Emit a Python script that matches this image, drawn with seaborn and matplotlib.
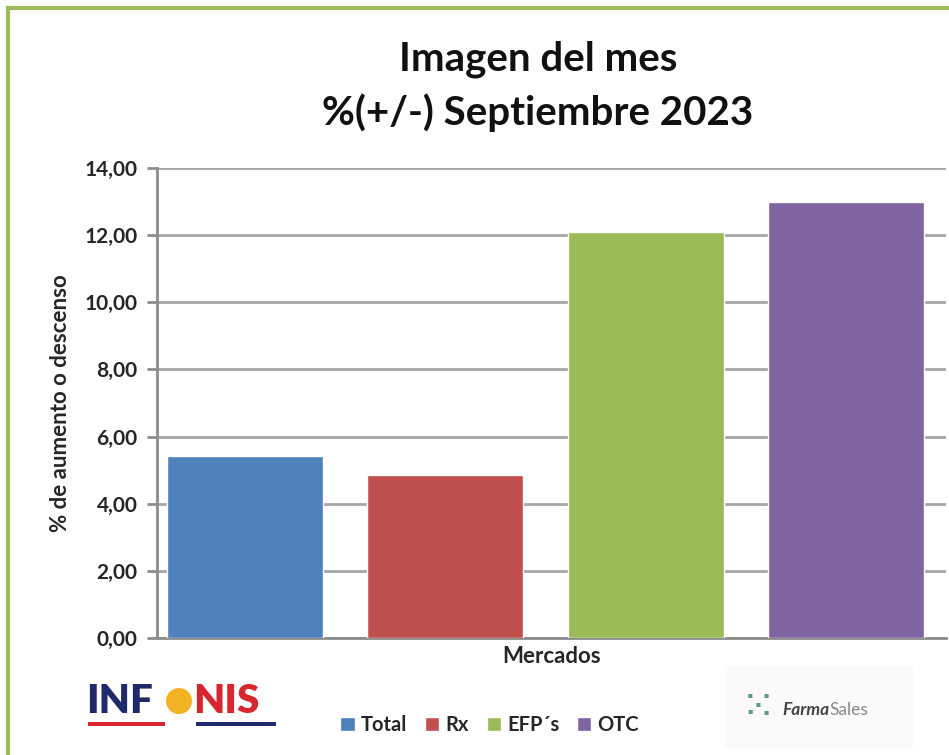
import seaborn as sns
import matplotlib.pyplot as plt
import pandas as pd
from matplotlib.patches import Patch, Rectangle, Ellipse
from matplotlib.ticker import FuncFormatter

sns.set_theme(style="white")
plt.rcParams["font.family"] = ["Lato", "DejaVu Sans"]

# datos
mercados = ["Total", "Rx", "EFP´s", "OTC"]
variacion = [5.42, 4.85, 12.10, 13.00]
colores = ["#4F81BD", "#C0504D", "#9BBB59", "#8064A2"]

df = pd.DataFrame({"mercado": mercados, "valor": variacion})

fig = plt.figure(figsize=(9.49, 7.55), dpi=100)
ax = fig.add_axes([157 / 949, 1 - 638 / 755, 789 / 949, 470 / 755])

sns.barplot(data=df, x="mercado", y="valor", hue="mercado", palette=colores,
            width=0.78, saturation=1, legend=False, ax=ax, zorder=3)

ax.set_ylim(0, 14)
ax.set_xlim(-0.44, 3.5)
ax.set_yticks(range(0, 15, 2))
ax.yaxis.set_major_formatter(FuncFormatter(lambda v, p: f"{v:.2f}".replace(".", ",")))
ax.set_xticks([])
ax.grid(axis="y", color="#A6A6A6", linewidth=2, zorder=0)
for s in ["top", "right"]:
    ax.spines[s].set_visible(False)
for s in ["left", "bottom"]:
    ax.spines[s].set_color("#8C8C8C")
    ax.spines[s].set_linewidth(2)
ax.tick_params(axis="y", length=7, width=2, color="#8C8C8C", left=True,
               labelsize=15, pad=7)
for lab in ax.get_yticklabels():
    lab.set_fontweight("bold")
    lab.set_color("#262626")

ax.set_ylabel("% de aumento o descenso", fontsize=16, fontweight="bold",
              color="#262626", labelpad=10)
ax.set_xlabel("Mercados", fontsize=16, fontweight="bold", color="#262626",
              labelpad=6)

fig.text(0.567, 0.921, "Imagen del mes", ha="center", va="center",
         fontsize=29, fontweight="bold", color="#111111")
fig.text(0.566, 0.851, "%(+/-) Septiembre 2023", ha="center", va="center",
         fontsize=29, fontweight="bold", color="#111111")

# leyenda
handles = [Patch(facecolor=c, label=m) for c, m in zip(colores, mercados)]
leg = fig.legend(handles=handles, loc="center", bbox_to_anchor=(0.516, 0.04),
                 ncol=4, frameon=False, fontsize=14.5, handlelength=0.7,
                 handleheight=0.7, handletextpad=0.3, columnspacing=0.9)
for t in leg.get_texts():
    t.set_fontweight("bold")
    t.set_color("#262626")

# marco verde
fig.patches.append(Rectangle((8 / 949, -0.05), 1.2, 1 - 8 / 755 + 0.05,
                             transform=fig.transFigure, fill=False,
                             edgecolor="#9BBB59", linewidth=3))

# logo INFONIS
fig.text(86 / 949, 1 - 713 / 755, "INF", fontsize=29, fontweight="heavy",
         color="#1F2A6B", va="baseline")
fig.patches.append(Ellipse((179 / 949, 1 - 701 / 755), 26 / 949, 26 / 755,
                           transform=fig.transFigure, facecolor="#F2B224",
                           edgecolor="none"))
fig.text(193 / 949, 1 - 713 / 755, "NIS", fontsize=29, fontweight="heavy",
         color="#D7262E", va="baseline")
fig.patches.append(Rectangle((88 / 949, 1 - 726 / 755), 77 / 949, 4 / 755,
                             transform=fig.transFigure, facecolor="#D7262E",
                             edgecolor="none"))
fig.patches.append(Rectangle((196 / 949, 1 - 726 / 755), 80 / 949, 4 / 755,
                             transform=fig.transFigure, facecolor="#1F2A6B",
                             edgecolor="none"))

# logo FarmaSales
fig.patches.append(Rectangle((725 / 949, 1 - 748 / 755), 188 / 949, 82 / 755,
                             transform=fig.transFigure, facecolor="#FCFAF8",
                             edgecolor="none"))
fig.text(758 / 949, 1 - 708 / 755, "⁙", fontsize=30, color="#5E9C8A",
         ha="center", va="center")
fig.text(782 / 949, 1 - 710 / 755, "Farma", fontsize=12.5, fontweight="bold",
         fontstyle="italic", color="#444444", va="center")
fig.text(829 / 949, 1 - 710 / 755, "Sales", fontsize=12.5, color="#888888",
         va="center")

fig.savefig("out.png", dpi=100)
